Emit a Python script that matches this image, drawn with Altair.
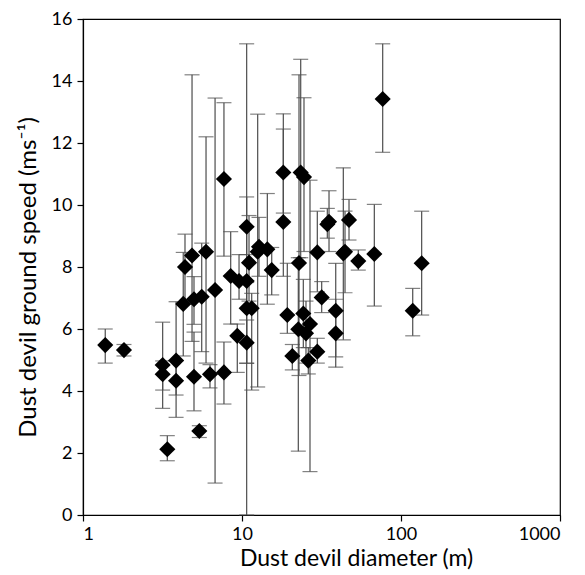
import altair as alt
import pandas as pd

# Dust devil diameter (m)
diameter = [1.38, 1.81, 3.17, 3.17, 3.39, 3.85, 3.85, 4.27, 4.38, 4.85,
            4.99, 4.99, 5.39, 5.58, 5.94, 6.29, 6.77, 7.70, 7.70, 8.49,
            9.34, 9.58, 10.7, 10.7, 10.7, 10.7, 11.07, 11.51, 12.55, 12.79,
            14.43, 15.38, 18.19, 18.19, 19.27, 20.72, 22.6, 22.83, 23.4, 24.54,
            24.3, 25.26, 26.12, 26.77, 29.76, 29.76, 31.71, 34.4, 35.26, 38.86,
            38.86, 43.37, 44.45, 47.1, 53.87, 67.95, 76.72, 118.5, 134.9]
# Dust devil ground speed (m/s)
speed = [5.48, 5.32, 4.84, 4.54, 2.12, 4.98, 4.33, 6.81, 8.0, 8.37,
         6.96, 4.46, 2.71, 7.04, 8.49, 4.54, 7.26, 10.84, 4.6, 7.71,
         5.78, 7.55, 9.3, 7.55, 6.67, 5.56, 8.14, 6.67, 8.49, 8.65,
         8.57, 7.9, 11.05, 9.45, 6.45, 5.13, 5.99, 8.13, 11.05, 10.9,
         6.5, 5.86, 4.98, 6.16, 5.27, 8.47, 7.02, 9.38, 9.46, 6.59,
         5.86, 8.44, 8.49, 9.52, 8.19, 8.42, 13.42, 6.59, 8.12]
# lower end of error bar
speed_low = [4.9, 5.13, 4.03, 3.44, 1.75, 3.87, 3.15, 5.13, 6.8, 5.6,
             6.15, 3.36, 2.5, 5.27, 4.9, 4.1, 1.03, 8.35, 3.58, 6.16,
             4.6, 6.96, 8.4, 0.0, 4.9, 4.89, 6.9, 4.03, 4.13, 7.7,
             6.8, 7.1, 9.74, 7.7, 5.86, 4.68, 2.06, 4.5, 8.3, 8.5,
             5.4, 4.9, 4.55, 1.4, 4.9, 7.2, 6.53, 8.93, 8.5, 5.1,
             4.77, 5.65, 7.17, 8.87, 7.9, 6.74, 11.7, 5.78, 6.45]
# upper end of error bar
speed_high = [6.0, 5.5, 6.22, 4.97, 2.56, 6.88, 4.98, 8.47, 9.06, 14.2,
              7.69, 5.9, 2.88, 8.77, 12.2, 4.85, 13.45, 13.3, 5.58, 9.14,
              6.16, 8.4, 10.26, 15.2, 7.5, 6.29, 9.66, 7.15, 12.93, 9.6,
              10.37, 8.63, 12.94, 12.45, 8.12, 5.5, 8.3, 14.2, 14.7, 13.46,
              7.6, 6.9, 5.4, 10.8, 5.7, 9.8, 7.53, 9.89, 10.46, 8.12,
              6.96, 11.2, 9.8, 10.18, 8.55, 10.02, 15.2, 7.31, 9.8]

x_ticks = [1, 10, 100, 1000]
y_ticks = [0, 2, 4, 6, 8, 10, 12, 14, 16]

df = pd.DataFrame({"d": diameter, "v": speed, "lo": speed_low, "hi": speed_high})

FONT = "Lato"
BAR = "#4d4d4d"

xscale = alt.Scale(type="log", domain=[1, 1000], nice=False)
yscale = alt.Scale(domain=[0, 16], nice=False, zero=False)

xenc = alt.X("d:Q", scale=xscale,
             axis=alt.Axis(values=x_ticks, format="d", title="Dust devil diameter (m)",
                           grid=False, tickSize=6, labelPadding=4, titlePadding=4,
                           titleX=273, titleFontSize=23))
yaxis = alt.Axis(values=y_ticks, format="d", title="Dust devil ground speed (ms⁻¹)",
                 grid=False, tickSize=6, labelPadding=5, titlePadding=11, titleY=258,
                 titleFontSize=24)

base = alt.Chart(df)

rules = base.mark_rule(color=BAR, strokeWidth=1.2).encode(
    x=xenc,
    y=alt.Y("lo:Q", scale=yscale, axis=yaxis),
    y2="hi:Q",
)
caps_hi = base.mark_tick(color=BAR, orient="horizontal", size=15, thickness=1.2).encode(
    x=alt.X("d:Q", scale=xscale), y=alt.Y("hi:Q", scale=yscale))
caps_lo = base.mark_tick(color=BAR, orient="horizontal", size=15, thickness=1.2).encode(
    x=alt.X("d:Q", scale=xscale), y=alt.Y("lo:Q", scale=yscale))
points = base.mark_point(shape="diamond", filled=True, color="black", size=260, opacity=1).encode(
    x=alt.X("d:Q", scale=xscale), y=alt.Y("v:Q", scale=yscale))

chart = alt.layer(rules, caps_hi, caps_lo, points).properties(
    width=477, height=496,
    background="white",
    autosize=alt.AutoSizeParams(type="none"),
    padding={"left": 83, "top": 19, "right": 25, "bottom": 60},
).configure_view(
    stroke="black", strokeWidth=1.2
).configure_axis(
    domainColor="black", domainWidth=1.2, tickColor="black", tickWidth=1.2,
    labelFont=FONT, labelFontSize=18, labelColor="black",
    titleFont=FONT, titleFontWeight="normal", titleColor="black",
)

chart.save("out.html", embed_options={"renderer": "svg", "actions": False})
